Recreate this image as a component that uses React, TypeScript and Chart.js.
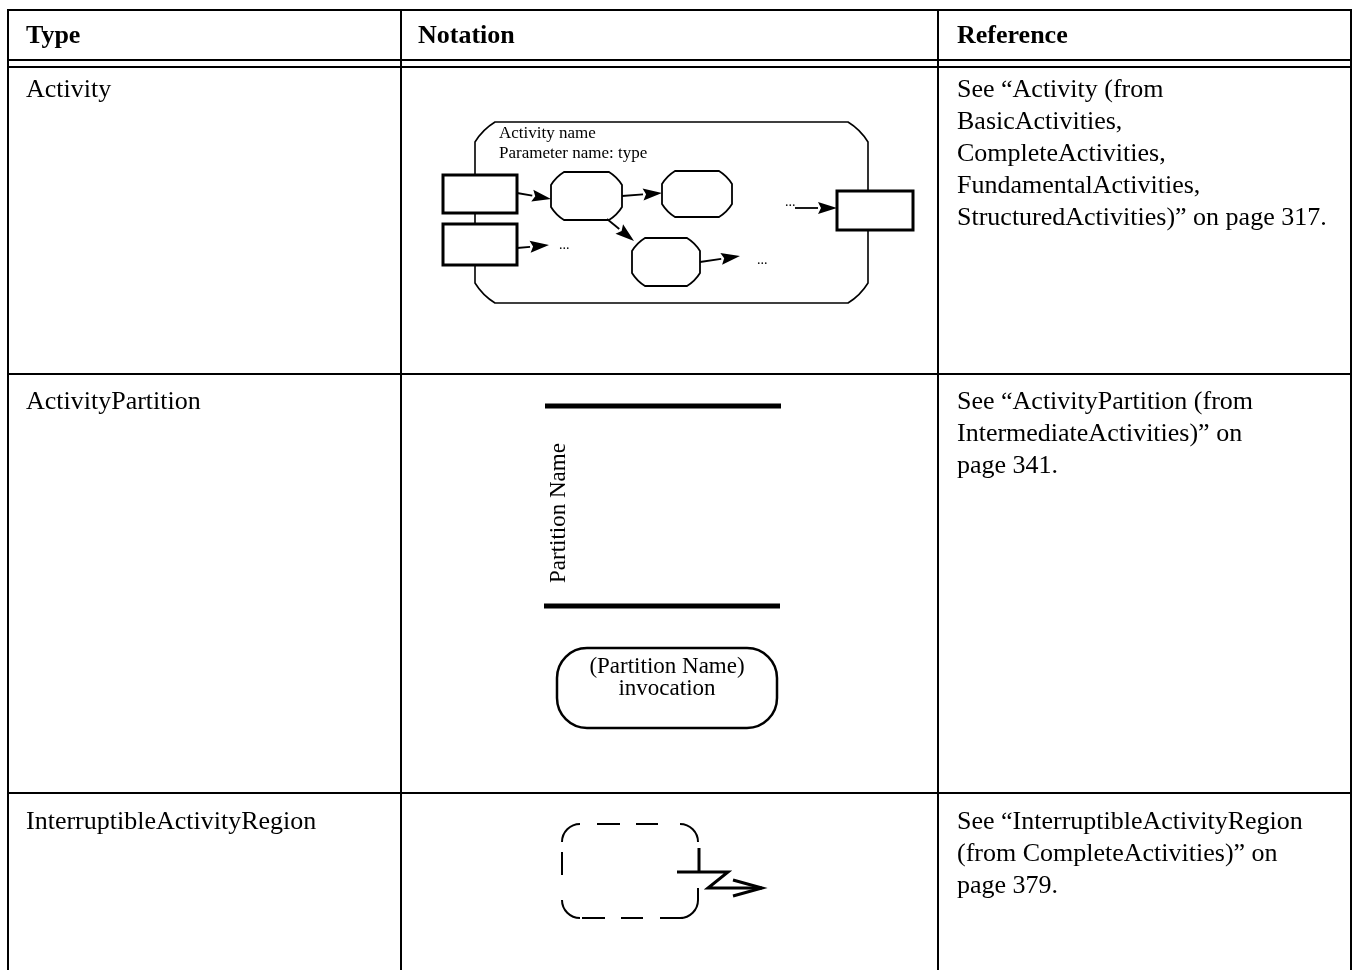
import React, { useEffect, useRef } from "react";
import { Chart, registerables } from "chart.js";

Chart.register(...registerables);

// ---------- data ----------
const headerLabels = ["Type", "Notation", "Reference"];
const typeLabels = ["Activity", "ActivityPartition", "InterruptibleActivityRegion"];
const referenceLines = [
  [
    "See \u201CActivity (from",
    "BasicActivities,",
    "CompleteActivities,",
    "FundamentalActivities,",
    "StructuredActivities)\u201D on page 317.",
  ],
  ["See \u201CActivityPartition (from", "IntermediateActivities)\u201D on", "page 341."],
  ["See \u201CInterruptibleActivityRegion", "(from CompleteActivities)\u201D on", "page 379."],
];

// table geometry (value space = page space)
const gridColumns = [8, 401, 938, 1351];
const gridRows = [10, 60, 67, 374, 793];
const gridBottom = 970;
const headerBaseline = 43;
const rowBaselines = [97, 409, 829];
const columnTextX = [26, 418, 957];
const lineSpacing = 32;

// activity diagram
const activityFrame = [475, 122, 868, 303];
const activityTitles = ["Activity name", "Parameter name: type"];
const parameterNodes = [
  [443, 175, 517, 213],
  [443, 224, 517, 265],
  [837, 191, 913, 230],
];
const actionNodes = [
  [551, 172, 622, 220],
  [662, 171, 732, 217],
  [632, 238, 700, 286],
];
const flowArrows = [
  [517, 193, 551, 199],
  [622, 196, 662, 193],
  [607, 219, 634, 241],
  [517, 248, 549, 245],
  [700, 262, 740, 256],
  [795, 208, 837, 208],
];
const ellipsisMarks = [
  [559, 249],
  [757, 264],
  [785, 206],
];

// partition diagram
const partitionBars = [
  [545, 781, 406],
  [544, 780, 606],
];
const partitionLabel = "Partition Name";
const invocationBox = [557, 648, 777, 728];
const invocationLines = ["(Partition Name)", "invocation"];

// interruptible region diagram
const regionBox = [562, 824, 698, 918];
const regionTopDashes = [
  [597, 620],
  [636, 658],
];
const regionBottomDashes = [
  [582, 605],
  [621, 643],
  [660, 683],
];
const regionLeftDashes = [[852, 875]];
const regionRightDashes = [[888, 900]];
const lightningTick = [
  [699, 848],
  [699, 872],
];
const lightningPath = [
  [677, 872],
  [728, 872],
  [708, 888],
  [762, 888],
];
const lightningHead = [
  [733, 880],
  [762, 888],
  [733, 896],
];

const SERIF = '"Liberation Serif", "Times New Roman", serif';

function lineDataset(points: number[][], width: number) {
  return {
    data: points.map(([x, y]) => ({ x, y })),
    showLine: true,
    pointRadius: 0,
    borderColor: "#000",
    borderWidth: width,
    fill: false,
    tension: 0,
    clip: false as any,
  };
}

const diagramPlugin = {
  id: "diagram",
  afterDatasetsDraw(chart: any) {
    const ctx: CanvasRenderingContext2D = chart.ctx;
    const sx = chart.scales.x;
    const sy = chart.scales.y;
    const X = (v: number) => sx.getPixelForValue(v);
    const Y = (v: number) => sy.getPixelForValue(v);

    ctx.save();
    ctx.fillStyle = "#000";
    ctx.strokeStyle = "#000";
    ctx.textBaseline = "alphabetic";

    // header
    ctx.font = `bold 26px ${SERIF}`;
    headerLabels.forEach((t, i) => ctx.fillText(t, X(columnTextX[i]), Y(headerBaseline)));

    // rows
    ctx.font = `26px ${SERIF}`;
    typeLabels.forEach((t, i) => ctx.fillText(t, X(columnTextX[0]), Y(rowBaselines[i])));
    referenceLines.forEach((lines, i) =>
      lines.forEach((t, j) => ctx.fillText(t, X(columnTextX[2]), Y(rowBaselines[i] + j * lineSpacing)))
    );

    // helpers
    const bevelRect = (r: number[], c: number) => {
      const x1 = X(r[0]), y1 = Y(r[1]), x2 = X(r[2]), y2 = Y(r[3]);
      const k = c * 0.38;
      ctx.beginPath();
      ctx.moveTo(x1 + c, y1);
      ctx.lineTo(x2 - c, y1);
      ctx.quadraticCurveTo(x2 - k, y1 + k, x2, y1 + c);
      ctx.lineTo(x2, y2 - c);
      ctx.quadraticCurveTo(x2 - k, y2 - k, x2 - c, y2);
      ctx.lineTo(x1 + c, y2);
      ctx.quadraticCurveTo(x1 + k, y2 - k, x1, y2 - c);
      ctx.lineTo(x1, y1 + c);
      ctx.quadraticCurveTo(x1 + k, y1 + k, x1 + c, y1);
      ctx.closePath();
    };
    const roundRect = (r: number[], rad: number) => {
      const x1 = X(r[0]), y1 = Y(r[1]), x2 = X(r[2]), y2 = Y(r[3]);
      ctx.beginPath();
      ctx.moveTo(x1 + rad, y1);
      ctx.arcTo(x2, y1, x2, y2, rad);
      ctx.arcTo(x2, y2, x1, y2, rad);
      ctx.arcTo(x1, y2, x1, y1, rad);
      ctx.arcTo(x1, y1, x2, y1, rad);
      ctx.closePath();
    };
    const arrow = (a: number[]) => {
      const x1 = X(a[0]), y1 = Y(a[1]), x2 = X(a[2]), y2 = Y(a[3]);
      const ang = Math.atan2(y2 - y1, x2 - x1);
      const L = 19, W = 6;
      const bx = x2 - L * Math.cos(ang), by = y2 - L * Math.sin(ang);
      ctx.lineWidth = 1.8;
      ctx.beginPath();
      ctx.moveTo(x1, y1);
      ctx.lineTo(bx, by);
      ctx.stroke();
      ctx.beginPath();
      ctx.moveTo(x2, y2);
      ctx.lineTo(bx + W * Math.sin(ang), by - W * Math.cos(ang));
      ctx.lineTo(bx + 3 * Math.cos(ang), by + 3 * Math.sin(ang));
      ctx.lineTo(bx - W * Math.sin(ang), by + W * Math.cos(ang));
      ctx.closePath();
      ctx.fill();
    };

    // activity frame
    ctx.lineWidth = 1.6;
    bevelRect(activityFrame, 20);
    ctx.stroke();
    ctx.font = `17px ${SERIF}`;
    activityTitles.forEach((t, i) => ctx.fillText(t, X(activityFrame[0] + 24), Y(138 + i * 20)));

    // parameter nodes
    parameterNodes.forEach((r) => {
      ctx.fillStyle = "#fff";
      ctx.fillRect(X(r[0]), Y(r[1]), X(r[2]) - X(r[0]), Y(r[3]) - Y(r[1]));
      ctx.fillStyle = "#000";
      ctx.lineWidth = 3;
      ctx.strokeRect(X(r[0]), Y(r[1]), X(r[2]) - X(r[0]), Y(r[3]) - Y(r[1]));
    });

    // action nodes
    actionNodes.forEach((r) => {
      ctx.lineWidth = 1.8;
      bevelRect(r, 13);
      ctx.stroke();
    });

    flowArrows.forEach(arrow);

    ctx.font = `14px ${SERIF}`;
    ellipsisMarks.forEach(([x, y]) => ctx.fillText("...", X(x), Y(y)));

    // partition label (rotated)
    ctx.save();
    ctx.translate(X(565), Y(583));
    ctx.rotate(-Math.PI / 2);
    ctx.font = `23px ${SERIF}`;
    ctx.fillText(partitionLabel, 0, 0);
    ctx.restore();

    // invocation
    ctx.lineWidth = 2.5;
    roundRect(invocationBox, 30);
    ctx.stroke();
    ctx.font = `23px ${SERIF}`;
    ctx.textAlign = "center";
    const cx = (invocationBox[0] + invocationBox[2]) / 2;
    invocationLines.forEach((t, i) => ctx.fillText(t, X(cx), Y(673 + i * 22)));
    ctx.textAlign = "left";

    // interruptible region: solid corner arcs + dashes
    const [rx1, ry1, rx2, ry2] = regionBox;
    const rad = 18;
    ctx.lineWidth = 2;
    ctx.lineCap = "butt";
    const arc = (cxv: number, cyv: number, a0: number, a1: number) => {
      ctx.beginPath();
      ctx.arc(X(cxv), Y(cyv), rad, a0, a1);
      ctx.stroke();
    };
    arc(rx1 + rad, ry1 + rad, Math.PI, 1.5 * Math.PI);
    arc(rx2 - rad, ry1 + rad, 1.5 * Math.PI, 2 * Math.PI);
    arc(rx2 - rad, ry2 - rad, 0, 0.5 * Math.PI);
    arc(rx1 + rad, ry2 - rad, 0.5 * Math.PI, Math.PI);
    const seg = (x1: number, y1: number, x2: number, y2: number) => {
      ctx.beginPath();
      ctx.moveTo(X(x1), Y(y1));
      ctx.lineTo(X(x2), Y(y2));
      ctx.stroke();
    };
    regionTopDashes.forEach(([a, b]) => seg(a, ry1, b, ry1));
    regionBottomDashes.forEach(([a, b]) => seg(a, ry2, b, ry2));
    regionLeftDashes.forEach(([a, b]) => seg(rx1, a, rx1, b));
    regionRightDashes.forEach(([a, b]) => seg(rx2, a, rx2, b));

    ctx.lineWidth = 3;
    ctx.lineJoin = "miter";
    const poly = (pts: number[][]) => {
      ctx.beginPath();
      pts.forEach(([x, y], i) => (i === 0 ? ctx.moveTo(X(x), Y(y)) : ctx.lineTo(X(x), Y(y))));
      ctx.stroke();
    };
    poly(lightningTick);
    poly(lightningPath);
    poly(lightningHead);

    ctx.restore();
  },
};

export default function App() {
  const ref = useRef<HTMLCanvasElement | null>(null);

  useEffect(() => {
    if (!ref.current) return;
    const left = gridColumns[0];
    const right = gridColumns[gridColumns.length - 1];
    const top = gridRows[0];
    const datasets: any[] = [];
    gridRows.forEach((y) => datasets.push(lineDataset([[left - 1, y], [right + 1, y]], 2)));
    gridColumns.forEach((x) => datasets.push(lineDataset([[x, top - 1], [x, gridBottom]], 2)));
    partitionBars.forEach(([x1, x2, y]) => datasets.push(lineDataset([[x1, y], [x2, y]], 5)));

    const chart = new Chart(ref.current, {
      type: "scatter",
      data: { datasets },
      options: {
        animation: false,
        responsive: false,
        maintainAspectRatio: false,
        events: [],
        layout: { padding: 0 },
        plugins: { legend: { display: false }, tooltip: { enabled: false } },
        scales: {
          x: { type: "linear", min: 0, max: 1354, display: false },
          y: { type: "linear", min: 0, max: 970, reverse: true, display: false },
        },
      } as any,
      plugins: [diagramPlugin],
    });
    return () => chart.destroy();
  }, []);

  return (
    <div style={{ position: "fixed", left: 0, top: 0, width: 1354, height: 970, background: "#fff" }}>
      <canvas ref={ref} width={1354} height={970} style={{ display: "block" }} />
    </div>
  );
}
